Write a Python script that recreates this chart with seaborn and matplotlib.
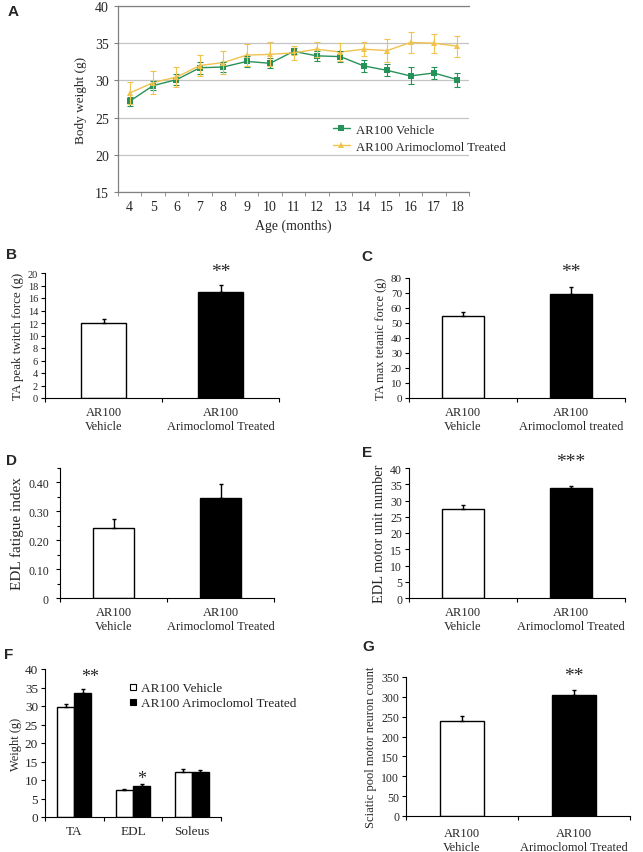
import numpy as np
import pandas as pd
import matplotlib
matplotlib.use("Agg")
import matplotlib.pyplot as plt
from matplotlib.lines import Line2D
import seaborn as sns

sns.set_style("white")
plt.rcParams['font.family'] = ['Liberation Serif', 'DejaVu Serif']

green = "#27915a"
yellow = "#f0c24e"

# panel A - body weight over age
ages = list(range(4, 19))
veh_bw = [27.2, 29.3, 30.1, 31.7, 31.8, 32.55, 32.3, 33.9, 33.3, 33.2, 31.95, 31.35, 30.6, 31.0, 30.1]
veh_bw_err = [0.6, 0.6, 0.7, 0.8, 0.7, 0.7, 0.7, 0.4, 0.7, 0.7, 0.8, 0.8, 1.15, 0.75, 0.95]
trt_bw = [28.3, 29.7, 30.45, 32.0, 32.4, 33.4, 33.5, 33.7, 34.2, 33.8, 34.2, 34.0, 35.1, 35.0, 34.6]
trt_bw_err = [1.5, 1.5, 1.3, 1.4, 1.5, 1.5, 1.6, 0.9, 1.0, 1.2, 0.9, 1.5, 1.45, 1.25, 1.4]

groups = ["AR100 Vehicle", "AR100 Arimoclomol Treated"]

# two-bar panels
twitch = [12.0, 17.0]
twitch_err = [0.6, 1.1]
tetanic = [54.5, 69.3]
tetanic_err = [2.6, 4.5]
fatigue = [0.242, 0.345]
fatigue_err = [0.033, 0.05]
munit = [27.5, 33.75]
munit_err = [1.1, 0.75]
neurons = [238, 305]
neurons_err = [15, 12]

# panel F - muscle weights
muscles = ["TA", "EDL", "Soleus"]
veh_mw = [29.8, 7.3, 12.2]
veh_mw_err = [0.8, 0.4, 0.7]
trt_mw = [33.5, 8.4, 12.2]
trt_mw_err = [1.1, 0.4, 0.5]

lab_veh = "AR100\nVehicle"
lab_trt = "AR100\nArimoclomol Treated"
lab_trt_c = "AR100\nArimoclomol treated"

W, H = 643, 853
def rect(l, r, t, b):
    return [l / W, 1 - b / H, (r - l) / W, (b - t) / H]

fig = plt.figure(figsize=(6.43, 8.53), dpi=100)

def panel_letter(x, y, s):
    fig.text(x / W, 1 - y / H, s, fontsize=11, fontweight='bold',
             family='Liberation Sans', ha='left', va='center')

def style_bar_axes(ax, ncat):
    sns.despine(ax=ax)
    ax.spines['left'].set_color('black')
    ax.spines['bottom'].set_color('black')
    ax.spines['left'].set_linewidth(0.8)
    ax.spines['bottom'].set_linewidth(0.8)
    ax.set_xlim(-0.5, ncat - 0.5)
    ax.set_xlabel("")
    ax.tick_params(axis='x', which='major', length=0, pad=6)
    ax.set_xticks(np.arange(-0.5, ncat, 1.0), minor=True)
    ax.tick_params(axis='x', which='minor', length=3, direction='out', width=0.8, color='black', bottom=True)
    ax.tick_params(axis='y', length=3, direction='out', width=0.8, color='black', left=True, pad=2)

def two_bars(ax, vals, errs, labels, ylim, yticks, ylabel, yticklabels=None, tsize=8.5, lsize=9.5):
    sns.barplot(x=labels, y=vals, hue=labels, palette=['white', 'black'], legend=False,
                edgecolor='black', linewidth=1.0, width=0.39, ax=ax)
    ax.errorbar([0, 1], vals, yerr=[[0, 0], errs], fmt='none', ecolor='black',
                elinewidth=1.0, capsize=1.5, capthick=1.0)
    style_bar_axes(ax, 2)
    ax.set_ylim(*ylim)
    ax.set_yticks(yticks)
    if yticklabels is not None:
        ax.set_yticklabels(yticklabels)
    ax.tick_params(axis='y', labelsize=tsize)
    ax.tick_params(axis='x', labelsize=9)
    ax.set_ylabel(ylabel, fontsize=lsize, labelpad=3)

# ---------------- A ----------------
axA = fig.add_axes(rect(118, 469, 7, 193))
dfA = pd.DataFrame({
    "age": ages * 2,
    "weight": veh_bw + trt_bw,
    "group": [groups[0]] * len(ages) + [groups[1]] * len(ages),
})
sns.lineplot(data=dfA, x="age", y="weight", hue="group", style="group",
             markers=['s', '^'], dashes=False, palette=[green, yellow],
             markersize=4, markeredgewidth=0, linewidth=1.0, ax=axA)
axA.errorbar(ages, veh_bw, yerr=veh_bw_err, fmt='none', ecolor=green, elinewidth=0.8, capsize=2, capthick=0.8)
axA.errorbar(ages, trt_bw, yerr=trt_bw_err, fmt='none', ecolor=yellow, elinewidth=0.8, capsize=2, capthick=0.8)
axA.set_xlim(3.5, 18.5)
axA.set_ylim(15, 40)
axA.set_yticks(range(15, 41, 5))
axA.set_xticks(ages)
axA.set_xticks(np.arange(3.5, 19, 1.0), minor=True)
axA.yaxis.grid(True, color='#c4c4c4', linewidth=0.9)
axA.xaxis.grid(False)
for s in ['left', 'bottom', 'top']:
    axA.spines[s].set_color('#808080')
    axA.spines[s].set_linewidth(0.9)
axA.spines['right'].set_visible(False)
axA.tick_params(axis='x', which='major', length=0, labelsize=10, pad=6)
axA.tick_params(axis='x', which='minor', length=3, color='#808080', bottom=True)
axA.tick_params(axis='y', length=3, color='#808080', left=True, labelsize=10)
axA.set_xlabel("Age (months)", fontsize=10)
axA.set_ylabel("Body weight (g)", fontsize=9.5, labelpad=6)
axA.legend(loc='center left', bbox_to_anchor=(0.58, 0.29), frameon=False, fontsize=9.2,
           handlelength=1.3, handletextpad=0.5, labelspacing=0.4)
panel_letter(8, 12, "A")

# ---------------- B ----------------
axB = fig.add_axes(rect(45, 279, 274, 399))
two_bars(axB, twitch, twitch_err, [lab_veh, lab_trt], (0, 20), range(0, 21, 2),
         "TA peak twitch force (g)", tsize=7.5, lsize=9.4)
axB.text(1, 20.2, "**", ha='center', va='center', fontsize=14, clip_on=False)
panel_letter(6, 255, "B")

# ---------------- C ----------------
axC = fig.add_axes(rect(409, 625, 279, 399))
two_bars(axC, tetanic, tetanic_err, [lab_veh, lab_trt_c], (0, 80), range(0, 81, 10),
         "TA max tetanic force (g)", tsize=8, lsize=9)
axC.text(1, 84.5, "**", ha='center', va='center', fontsize=14, clip_on=False)
panel_letter(361, 257, "C")

# ---------------- D ----------------
axD = fig.add_axes(rect(60, 274, 469, 599))
two_bars(axD, fatigue, fatigue_err, [lab_veh, lab_trt], (0, 0.45), [0, 0.1, 0.2, 0.3, 0.4],
         "EDL fatigue index", yticklabels=["0", "0.10", "0.20", "0.30", "0.40"], tsize=8.5, lsize=11)
axD.set_yticks(np.arange(0.05, 0.46, 0.1), minor=True)
axD.tick_params(axis='y', which='minor', length=2, direction='out', width=0.8, color='black', left=True)
axD.tick_params(axis='y', which='major', pad=5)
panel_letter(6, 461, "D")

# ---------------- E ----------------
axE = fig.add_axes(rect(409, 625, 469, 599))
two_bars(axE, munit, munit_err, [lab_veh, lab_trt], (0, 40), range(0, 41, 5),
         "EDL motor unit number", tsize=8.5, lsize=10.4)
axE.text(1, 42, "***", ha='center', va='center', fontsize=14, clip_on=False)
panel_letter(362, 453, "E")

# ---------------- F ----------------
axF = fig.add_axes(rect(45, 221, 670, 818))
dfF = pd.DataFrame({
    "muscle": muscles * 2,
    "weight": veh_mw + trt_mw,
    "group": [groups[0]] * 3 + [groups[1]] * 3,
})
sns.barplot(data=dfF, x="muscle", y="weight", hue="group", palette=['white', 'black'],
            edgecolor='black', linewidth=1.0, width=0.58, gap=0, legend=False, ax=axF)
xs = np.arange(len(muscles))
axF.errorbar(xs - 0.145, veh_mw, yerr=[[0] * 3, veh_mw_err], fmt='none', ecolor='black',
             elinewidth=1.0, capsize=1.5, capthick=1.0)
axF.errorbar(xs + 0.145, trt_mw, yerr=[[0] * 3, trt_mw_err], fmt='none', ecolor='black',
             elinewidth=1.0, capsize=1.5, capthick=1.0)
style_bar_axes(axF, 3)
axF.set_ylim(0, 40)
axF.set_yticks(range(0, 41, 5))
axF.tick_params(axis='y', labelsize=9.5)
axF.tick_params(axis='x', labelsize=9.5)
axF.set_ylabel("Weight (g)", fontsize=9, labelpad=2)
axF.text(0.27, 38, "**", ha='center', va='center', fontsize=13, clip_on=False)
axF.text(1.145, 10.3, "*", ha='center', va='center', fontsize=13, clip_on=False)
handles = [Line2D([], [], marker='s', linestyle='none', markersize=5, markerfacecolor='white',
                  markeredgecolor='black', markeredgewidth=0.8),
           Line2D([], [], marker='s', linestyle='none', markersize=5, markerfacecolor='black',
                  markeredgecolor='black', markeredgewidth=0.8)]
axF.legend(handles, groups, loc='center left', bbox_to_anchor=(0.44, 0.82), frameon=False,
           fontsize=9.5, handlelength=0.6, handletextpad=0.3, labelspacing=0.2, borderpad=0)
panel_letter(4, 655, "F")

# ---------------- G ----------------
axG = fig.add_axes(rect(406, 630, 678, 817))
two_bars(axG, neurons, neurons_err, [lab_veh, lab_trt], (0, 350), range(0, 351, 50),
         "Sciatic pool motor neuron count", tsize=8.5, lsize=9)
axG.tick_params(axis='x', pad=8)
axG.text(1, 353, "**", ha='center', va='center', fontsize=14, clip_on=False)
panel_letter(362, 647, "G")

fig.savefig("out.png", dpi=100)
